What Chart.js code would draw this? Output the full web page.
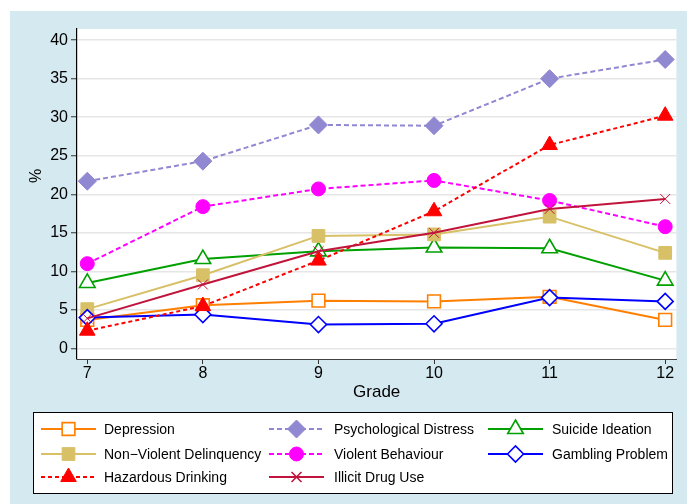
<!DOCTYPE html>
<html>
<head>
<meta charset="utf-8">
<script src="https://cdn.jsdelivr.net/npm/chart.js@4/dist/chart.umd.min.js"></script>
<style>
  html, body { margin: 0; padding: 0; background: #ffffff; }
  #wrap { width: 687px; height: 504px; }
</style>
</head>
<body>
<div id="wrap"><canvas id="chart" width="687" height="504"></canvas></div>
<script>
// School grades on the x axis
const grades = [7, 8, 9, 10, 11, 12];

// Prevalence (%) of each outcome by grade
const depression          = [3.7, 5.6, 6.2, 6.1, 6.7, 3.7];
const psychologicalDistress = [21.7, 24.3, 29.0, 28.9, 35.0, 37.5];
const suicideIdeation     = [8.5, 11.6, 12.6, 13.1, 13.0, 8.8];
const nonViolentDelinquency = [5.1, 9.5, 14.6, 14.8, 17.1, 12.4];
const violentBehaviour    = [11.0, 18.4, 20.7, 21.8, 19.2, 15.8];
const gamblingProblem     = [4.0, 4.4, 3.1, 3.2, 6.6, 6.1];
const hazardousDrinking   = [2.3, 5.5, 11.4, 17.8, 26.4, 30.2];
const illicitDrugUse      = [3.9, 8.3, 12.6, 15.0, 18.1, 19.4];

// Axis tick values
const gradeTicks = [7, 8, 9, 10, 11, 12];
const percentTicks = [0, 5, 10, 15, 20, 25, 30, 35, 40];

const FONT = "'Liberation Sans', Arial, Helvetica, sans-serif";
const BG_BLUE = '#d5e9f0';

function pts(values) {
  return grades.map((g, i) => ({ x: g, y: values[i] }));
}

function series(label, values, color, style, hollow, dash, radius) {
  return {
    label,
    data: pts(values),
    borderColor: color,
    backgroundColor: color,
    borderWidth: 2,
    borderDash: dash,
    pointStyle: style,
    pointRadius: radius,
    pointHoverRadius: radius,
    pointBackgroundColor: hollow ? '#ffffff' : color,
    pointBorderColor: color,
    pointBorderWidth: hollow ? 1.6 : 1,
    tension: 0,
    fill: false
  };
}

const datasets = [
  series('Depression', depression, '#ff7f00', 'rect', true, [], 9),
  series('Psychological Distress', psychologicalDistress, '#9188d2', 'rectRot', false, [5, 3], 9),
  series('Suicide Ideation', suicideIdeation, '#00a000', 'triangle', true, [], 9),
  series('Non\u2212Violent Delinquency', nonViolentDelinquency, '#d8c066', 'rect', false, [], 9),
  series('Violent Behaviour', violentBehaviour, '#ff00ff', 'circle', false, [5, 3], 7),
  series('Gambling Problem', gamblingProblem, '#0000ff', 'rectRot', true, [], 8),
  series('Hazardous Drinking', hazardousDrinking, '#ff0000', 'triangle', false, [4, 3], 9),
  series('Illicit Drug Use', illicitDrugUse, '#c0143c', 'crossRot', false, [], 7)
];
// later series are painted on top of earlier ones
datasets.forEach((d, i) => { d.order = datasets.length - i; });

function marker(ctx, ds, x, y) {
  ctx.save();
  ctx.setLineDash([]);
  ctx.fillStyle = ds.pointBackgroundColor;
  ctx.strokeStyle = ds.pointBorderColor;
  ctx.lineWidth = ds.pointStyle === 'crossRot' ? 1.6 : ds.pointBorderWidth;
  Chart.helpers.drawPoint(ctx, {
    pointStyle: ds.pointStyle,
    radius: ds.pointRadius,
    rotation: 0,
    borderWidth: ctx.lineWidth
  }, x, y);
  ctx.restore();
}

const framePlugin = {
  id: 'frame',
  beforeDraw(chart) {
    const { ctx, chartArea: a } = chart;
    ctx.save();
    ctx.fillStyle = '#ffffff';
    ctx.fillRect(0, 0, chart.width, chart.height);
    ctx.fillStyle = BG_BLUE;
    ctx.fillRect(10, 11, chart.width - 10, chart.height - 11);
    ctx.fillStyle = '#ffffff';
    ctx.fillRect(a.left, a.top, a.right - a.left, a.bottom - a.top);
    ctx.restore();
  },
  afterDraw(chart) {
    const { ctx, chartArea: a } = chart;
    ctx.save();
    // axis titles
    ctx.fillStyle = '#000000';
    ctx.font = '17px ' + FONT;
    ctx.textAlign = 'center';
    ctx.textBaseline = 'middle';
    ctx.fillText('Grade', (a.left + a.right) / 2, 392);
    ctx.save();
    ctx.translate(37, 176);
    ctx.rotate(-Math.PI / 2);
    ctx.font = '16px ' + FONT;
    ctx.fillText('%', 0, 0);
    ctx.restore();

    // legend box
    ctx.fillStyle = '#ffffff';
    ctx.fillRect(33, 412, 639, 81);
    ctx.strokeStyle = '#000000';
    ctx.lineWidth = 1;
    ctx.strokeRect(33.5, 412.5, 639, 81);

    const colX = [41, 269, 488];
    const textX = [104, 334, 552];
    const rowY = [429, 454, 477];
    const keyLen = 55;
    chart.data.datasets.forEach((ds, i) => {
      const c = i % 3, r = Math.floor(i / 3);
      const x0 = colX[c], y = rowY[r];
      ctx.save();
      ctx.strokeStyle = ds.borderColor;
      ctx.lineWidth = ds.borderWidth;
      ctx.setLineDash(ds.borderDash);
      ctx.beginPath();
      ctx.moveTo(x0, y);
      ctx.lineTo(x0 + keyLen, y);
      ctx.stroke();
      ctx.restore();
      marker(ctx, ds, x0 + keyLen / 2, y);
      ctx.fillStyle = '#000000';
      ctx.font = '14px ' + FONT;
      ctx.textAlign = 'left';
      ctx.textBaseline = 'middle';
      ctx.fillText(ds.label, textX[c], y + 1);
    });
    ctx.restore();
  }
};

new Chart(document.getElementById('chart'), {
  type: 'line',
  data: { datasets },
  plugins: [framePlugin],
  options: {
    responsive: false,
    animation: false,
    events: [],
    layout: { padding: { top: 29, right: 10, bottom: 0, left: 0 } },
    plugins: {
      legend: { display: false },
      tooltip: { enabled: false },
      title: { display: false }
    },
    scales: {
      x: {
        type: 'linear',
        min: 6.911,
        max: 12.097,
        afterFit(scale) { scale.height = 145; },
        afterBuildTicks(scale) { scale.ticks = gradeTicks.map(v => ({ value: v })); },
        grid: {
          drawOnChartArea: false,
          drawTicks: true,
          tickLength: 5,
          tickColor: '#333333',
          tickWidth: 1
        },
        border: { display: true, color: '#404040', width: 1 },
        ticks: {
          color: '#000000',
          font: { family: FONT, size: 16 },
          padding: 0,
          maxRotation: 0,
          autoSkip: false,
          callback: v => String(v)
        }
      },
      y: {
        type: 'linear',
        min: -1.37,
        max: 41.45,
        afterFit(scale) { scale.width = 77; },
        afterBuildTicks(scale) { scale.ticks = percentTicks.map(v => ({ value: v })); },
        grid: {
          color: '#e6e6e6',
          lineWidth: 1.5,
          drawTicks: true,
          tickLength: 6,
          tickColor: '#333333',
          tickWidth: 1
        },
        border: { display: true, color: '#000000', width: 1.2 },
        ticks: {
          color: '#000000',
          font: { family: FONT, size: 16 },
          padding: 3,
          autoSkip: false,
          callback: v => String(v)
        }
      }
    }
  }
});
</script>
</body>
</html>
